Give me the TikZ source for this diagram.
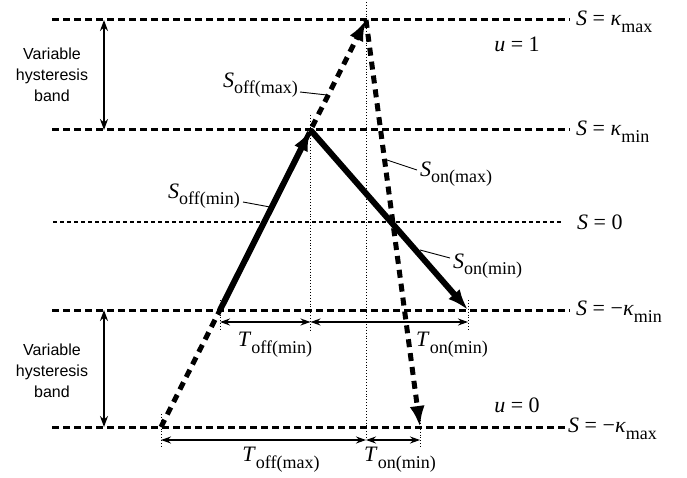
\documentclass[tikz,border=0pt]{standalone}
\usepackage{fontspec}
\setmainfont{Liberation Serif}
\newfontfamily\sansf{Liberation Sans}
\usetikzlibrary{arrows.meta}
\newcommand{\SubT}[1]{\raisebox{-0.3em}{\fontsize{18}{18}\selectfont #1}}
\newcommand{\Sb}[2]{\textit{#1}\SubT{#2}}
\begin{document}
\begin{tikzpicture}[x=1pt,y=-1pt,
  level/.style={line width=3pt,dash pattern=on 7pt off 4pt},
  zeroline/.style={line width=1.4pt,dash pattern=on 4pt off 3pt},
  guide/.style={line width=0.9pt,dotted},
  solidarr/.style={line width=6pt,-{Latex[length=21pt,width=15pt]}},
  dasharr/.style={line width=5pt,dash pattern=on 8pt off 6pt,-{Latex[length=21pt,width=15pt]}},
  dimarr/.style={line width=1.2pt,{Stealth[length=10pt,width=7pt]}-{Stealth[length=10pt,width=7pt]}},
  bandarr/.style={line width=2pt,{Stealth[length=11pt,width=8pt]}-{Stealth[length=11pt,width=8pt]}},
  leader/.style={line width=0.9pt},
  lab/.style={font=\fontsize{22}{24}\selectfont,inner sep=0pt},
  bandtxt/.style={font=\sansf\fontsize{16}{21}\selectfont,align=center,inner sep=0pt}]
\useasboundingbox (0,0) rectangle (687,478);
% level lines
\coordinate (L1a) at (52,20);  \coordinate (L1b) at (570,20);
\coordinate (L2a) at (52,130); \coordinate (L2b) at (570,130);
\coordinate (L3a) at (53,222); \coordinate (L3b) at (562,222);
\coordinate (L4a) at (52,310); \coordinate (L4b) at (570,310);
\coordinate (L5a) at (52,427); \coordinate (L5b) at (565,427);
\draw[level] (L1a) -- (L1b);
\draw[level] (L2a) -- (L2b);
\draw[zeroline] (L3a) -- (L3b);
\draw[level] (L4a) -- (L4b);
\draw[level] (L5a) -- (L5b);
% key points
\coordinate (A) at (220,310);
\coordinate (B) at (310.5,130);
\coordinate (C) at (468,310);
\coordinate (D) at (161,427);
\coordinate (E) at (366,20);
\coordinate (F) at (420,427);
% guides
\coordinate (gEt) at (366,2);     \coordinate (gEb) at (366,438);
\coordinate (gBt) at (310.5,115); \coordinate (gBb) at (310.5,330);
\coordinate (gAt) at (220,300);   \coordinate (gAb) at (220,330);
\coordinate (gCt) at (468,300);   \coordinate (gCb) at (468,330);
\coordinate (gDt) at (161,414);   \coordinate (gDb) at (161,447);
\coordinate (gFt) at (420,420);   \coordinate (gFb) at (420,447);
\draw[guide] (gEt) -- (gEb);
\draw[guide] (gBt) -- (gBb);
\draw[guide] (gAt) -- (gAb);
\draw[guide] (gCt) -- (gCb);
\draw[guide] (gDt) -- (gDb);
\draw[guide] (gFt) -- (gFb);
% trajectories
\draw[dasharr] (D) -- (E);
\draw[dasharr] (E) -- (F);
\draw[solidarr] (A) -- (B);
\draw[solidarr] (B) -- (C);
% dimension arrows
\coordinate (t1a) at (220,322); \coordinate (t1b) at (310.5,322); \coordinate (t1c) at (468,322);
\coordinate (t2a) at (161,440); \coordinate (t2b) at (366,440);   \coordinate (t2c) at (420,440);
\draw[dimarr] (t1a) -- (t1b);
\draw[dimarr] (t1b) -- (t1c);
\draw[dimarr] (t2a) -- (t2b);
\draw[dimarr] (t2b) -- (t2c);
\node[lab] (toffmin) at (275,345) {\Sb{T}{off(min)}};
\node[lab] (tonmin1) at (452,345) {\Sb{T}{on(min)}};
\node[lab] (toffmax) at (281,460) {\Sb{T}{off(max)}};
\node[lab] (tonmin2) at (400,460) {\Sb{T}{on(min)}};
% band arrows
\coordinate (b1t) at (104,20);  \coordinate (b1b) at (104,130);
\coordinate (b2t) at (104,310); \coordinate (b2b) at (104,427);
\draw[bandarr] (b1t) -- (b1b);
\draw[bandarr] (b2t) -- (b2b);
\node[bandtxt] (band1) at (52,75) {Variable\\hysteresis\\band};
\node[bandtxt] (band2) at (52,371) {Variable\\hysteresis\\band};
% right labels
\node[lab,anchor=west] (k1) at (576,22) {\textit{S} = \textit{κ}\SubT{max}};
\node[lab,anchor=west] (k2) at (576,132) {\textit{S} = \textit{κ}\SubT{min}};
\node[lab,anchor=west] (k3) at (577,222) {\textit{S} = 0};
\node[lab,anchor=west] (k4) at (576,312) {\textit{S} = −\textit{κ}\SubT{min}};
\node[lab,anchor=west] (k5) at (568,429) {\textit{S} = −\textit{κ}\SubT{max}};
\node[lab] (u1) at (517,44) {\textit{u} = 1};
\node[lab] (u0) at (517,405) {\textit{u} = 0};
% slope labels with leaders
\node[lab,anchor=east] (soffmax) at (298,85) {\Sb{S}{off(max)}};
\node[lab,anchor=east] (soffmin) at (240,196) {\Sb{S}{off(min)}};
\node[lab,anchor=west] (sonmax) at (420,174) {\Sb{S}{on(max)}};
\node[lab,anchor=west] (sonmin) at (453,266) {\Sb{S}{on(min)}};
\coordinate (q1) at (300,92);  \coordinate (p1) at (327,95);
\coordinate (q2) at (243,202); \coordinate (p2) at (270,207);
\coordinate (q3) at (417,170); \coordinate (p3) at (387,160);
\coordinate (q4) at (450,258); \coordinate (p4) at (420,250);
\draw[leader] (q1) -- (p1);
\draw[leader] (q2) -- (p2);
\draw[leader] (q3) -- (p3);
\draw[leader] (q4) -- (p4);
\end{tikzpicture}
\end{document}
